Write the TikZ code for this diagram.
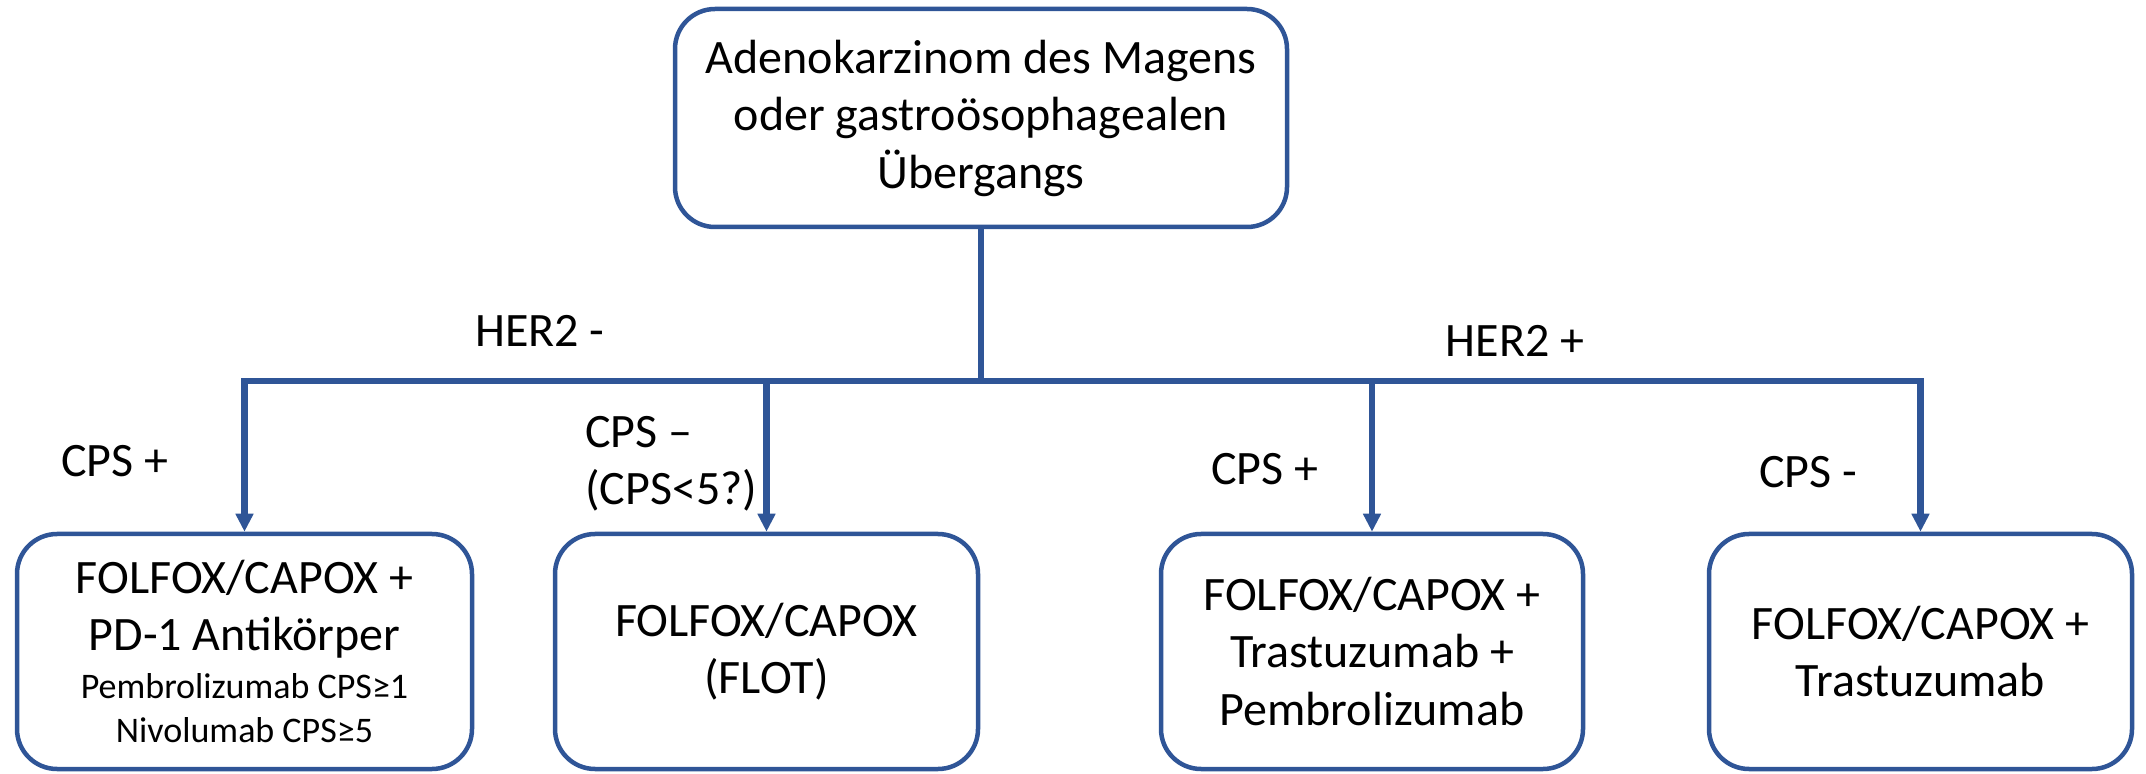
\documentclass[tikz,border=0pt]{standalone}
\usepackage{fontspec}
\setmainfont{Carlito}
\usetikzlibrary{arrows.meta}
\definecolor{lineblue}{HTML}{2F5597}
\begin{document}
\begin{tikzpicture}[x=0.5pt,y=-0.5pt,
  box/.style={draw=lineblue, line width=2.25pt, rounded corners=20pt, align=center, inner sep=0pt,
    font=\fontsize{24}{28.75}\selectfont},
  lowbox/.style={box, minimum height=117.5pt},
  conn/.style={draw=lineblue, line width=3.25pt},
  arr/.style={conn, -{Triangle[width=8.5pt,length=9pt]}},
  lbl/.style={font=\fontsize{24}{28.75}\selectfont, inner sep=0pt}]
\useasboundingbox (0,0) rectangle (2146,774);
% boxes
\node[box, minimum width=306pt, minimum height=109pt] (top) at (981,118)
  {Adenokarzinom des Magens\\oder gastroösophagealen\\Übergangs};
\node[lowbox, minimum width=227.5pt] (b1) at (244.5,651.5)
  {FOLFOX/CAPOX +\\PD-1 Antikörper\\[-4.75pt]{\fontsize{18}{22}\selectfont Pembrolizumab CPS≥1}\\[-6.75pt]{\fontsize{18}{22}\selectfont Nivolumab CPS≥5}};
\node[lowbox, minimum width=211.5pt] (b2) at (766.5,651.5)
  {FOLFOX/CAPOX\\(FLOT)};
\node[lowbox, minimum width=211pt] (b3) at (1372,651.5)
  {FOLFOX/CAPOX +\\Trastuzumab +\\Pembrolizumab};
\node[lowbox, minimum width=211.5pt] (b4) at (1920.5,651.5)
  {FOLFOX/CAPOX +\\Trastuzumab};
% connectors
\coordinate (bus) at (981,381);
\draw[conn] (top.south) -- (top.south |- bus);
\draw[conn, line cap=rect] (b1.north |- bus) -- (b4.north |- bus);
\draw[arr] (b1.north |- bus) -- (b1.north);
\draw[arr] (b2.north |- bus) -- (b2.north);
\draw[arr] (b3.north |- bus) -- (b3.north);
\draw[arr] (b4.north |- bus) -- (b4.north);
% labels
\node[lbl, anchor=base] (hneg) at (540,347) {HER2 -};
\node[lbl, anchor=base] (hpos) at (1515,357) {HER2 +};
\node[lbl, anchor=base] (c1) at (115,477) {CPS +};
\node[lbl, anchor=base west] (c2a) at (585,448) {CPS –};
\node[lbl, anchor=base west] (c2b) at (585,505) {(CPS<5?)};
\node[lbl, anchor=base] (c3) at (1265,485) {CPS +};
\node[lbl, anchor=base] (c4) at (1808,488) {CPS -};
\end{tikzpicture}
\end{document}
